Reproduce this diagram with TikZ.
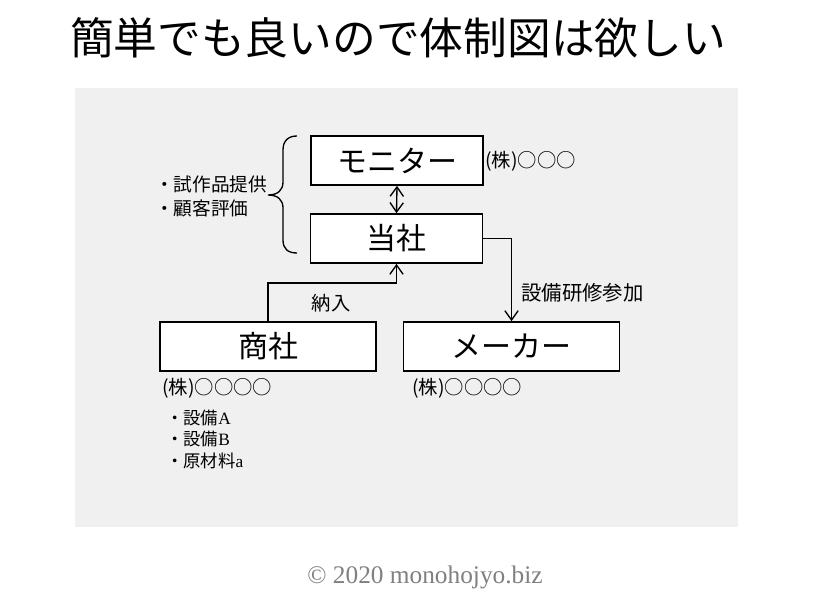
\documentclass[tikz,border=0pt]{standalone}
\usepackage{fontspec}
\newfontfamily\jp{Noto Sans CJK JP}
\newfontfamily\lser{Liberation Serif}
\usetikzlibrary{arrows.meta}
\definecolor{panelgray}{RGB}{240,240,240}
\definecolor{copygray}{RGB}{128,128,128}
\tikzset{
  orgbox/.style={draw=black, line width=1.3pt, fill=white, font=\jp\fontsize{22.5}{26}\selectfont, inner sep=0pt, minimum height=36.75pt},
  smallbox/.style={orgbox, minimum width=129pt},
  widebox/.style={orgbox, minimum width=162pt},
  lbl/.style={font=\jp\fontsize{14.5}{17}\selectfont, inner sep=0pt},
  bullet/.style={font=\jp\fontsize{13}{16}\selectfont, inner sep=0pt, anchor=west},
  link/.style={line width=1pt, -{Straight Barb[length=7pt,width=10pt]}},
  dlink/.style={line width=1pt, {Straight Barb[length=7pt,width=10pt]}-{Straight Barb[length=7pt,width=10pt]}}
}
\begin{document}
\begin{tikzpicture}[x=0.75pt,y=-0.75pt]
\useasboundingbox (0,0) rectangle (816,610);
\fill[white] (0,0) rectangle (816,610);
\node[font=\jp\fontsize{32.8}{36}\selectfont, inner sep=0pt] (title) at (398,38) {簡単でも良いので体制図は欲しい};
\fill[panelgray] (75,88) rectangle (738,527);

\node[smallbox] (monitor) at (397,160.5) {モニター};
\node[smallbox] (tosha) at (396.5,238.5) {当社};
\node[widebox] (shosha) at (268,346.5) {商社};
\node[widebox] (maker) at (511.5,346.5) {メーカー};

\draw[dlink] (monitor.south) -- (tosha.north);
\draw[link] (shosha.north) -- ++(0,-38) -| (tosha.south);
\draw[link] (tosha.east) -| (maker.north);

\node[lbl] (nonyu) at (331,303) {納入};
\node[lbl, anchor=west, font=\jp\fontsize{15.3}{18}\selectfont] (kenshu) at (521,293) {設備研修参加};
\node[lbl, anchor=west] (mon) at (485,161) {(株)○○○};
\node[lbl, anchor=west] (shoco) at (162,388) {(株)○○○○};
\node[lbl, anchor=west] (makco) at (412,388) {(株)○○○○};
\node[lbl, anchor=west, font=\jp\fontsize{14}{17}\selectfont] (s1) at (155,184) {・試作品提供};
\node[lbl, anchor=west, font=\jp\fontsize{14}{17}\selectfont] (s2) at (155,208) {・顧客評価};

\draw[line width=1pt] (297,136) .. controls (288,136) and (283,141) .. (283,150) -- (283,182) .. controls (283,190) and (278,195) .. (268,195) .. controls (278,195) and (283,200) .. (283,208) -- (283,240) .. controls (283,249) and (288,253) .. (297,253);

\node[bullet] (b1) at (166,418) {・設備{\lser A}};
\node[bullet] (b2) at (166,439) {・設備{\lser B}};
\node[bullet] (b3) at (166,461) {・原材料{\lser a}};

\node[font=\lser\fontsize{19}{22}\selectfont, text=copygray, inner sep=0pt] (copy) at (425,577) {© 2020 monohojyo.biz};
\end{tikzpicture}
\end{document}
